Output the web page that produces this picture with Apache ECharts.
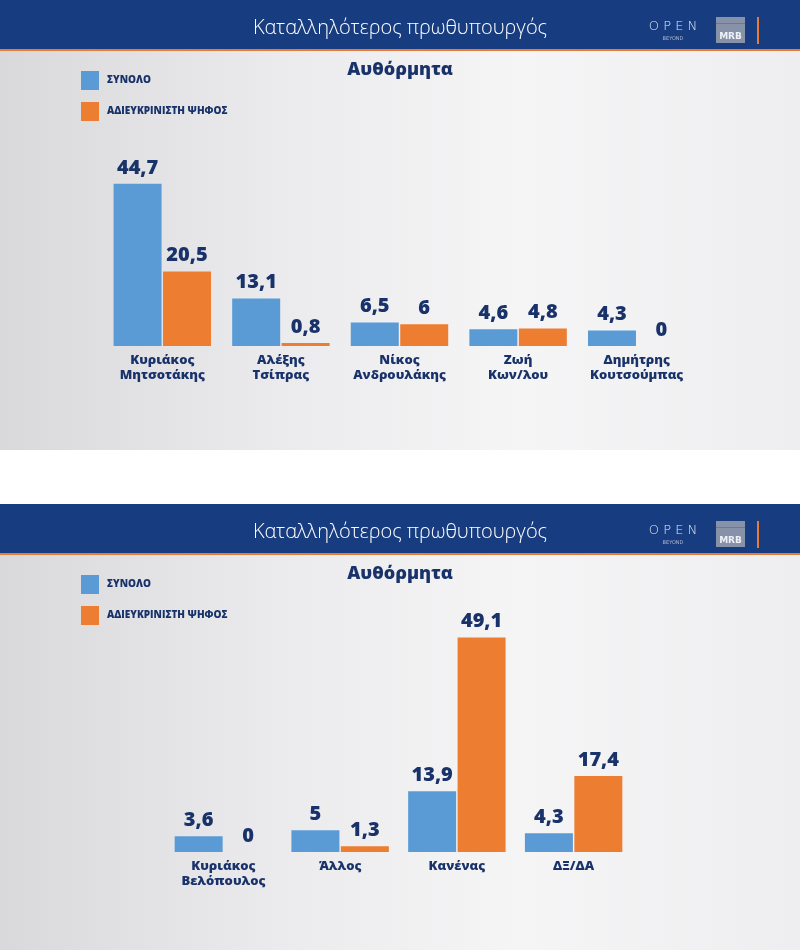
<!DOCTYPE html>
<html>
<head>
<meta charset="utf-8">
<script src="https://cdn.jsdelivr.net/npm/echarts@6/dist/echarts.min.js"></script>
<style>
html,body{margin:0;padding:0;background:#fff;}
#c{width:800px;height:950px;}
</style>
</head>
<body>
<div id="c"></div>
<script>
const headerTitle = 'Καταλληλότερος πρωθυπουργός';
const subTitle = 'Αυθόρμητα';
const seriesNames = ['ΣΥΝΟΛΟ', 'ΑΔΙΕΥΚΡΙΝΙΣΤΗ ΨΗΦΟΣ'];

const categories1 = ['Κυριάκος\nΜητσοτάκης', 'Αλέξης\nΤσίπρας', 'Νίκος\nΑνδρουλάκης', 'Ζωή\nΚων/λου', 'Δημήτρης\nΚουτσούμπας'];
const total1 = [44.7, 13.1, 6.5, 4.6, 4.3];
const undecided1 = [20.5, 0.8, 6, 4.8, 0];

const categories2 = ['Κυριάκος\nΒελόπουλος', 'Άλλος', 'Κανένας', 'ΔΞ/ΔΑ'];
const total2 = [3.6, 5, 13.9, 4.3];
const undecided2 = [0, 1.3, 49.1, 17.4];

const BLUE = '#5b9bd5', ORANGE = '#ed7d31', NAVY = '#19336a', HEADER = '#173d80', LINE = '#e87b3b';
const FONT = '"Open Sans", "Noto Sans", sans-serif';

const chart = echarts.init(document.getElementById('c'), null, {renderer: 'canvas'});

function bg(y, h) {
  return {
    type: 'rect', shape: {x: 0, y: y, width: 800, height: h}, z: -10, silent: true,
    style: {fill: {type: 'linear', x: 0, y: 0, x2: 1, y2: 0,
      colorStops: [{offset: 0, color: '#d9d9dc'}, {offset: 0.35, color: '#ebebed'}, {offset: 0.65, color: '#f5f5f6'}, {offset: 1, color: '#eeeef0'}]}}
  };
}
function header(y) {
  return [
    {type: 'rect', shape: {x: 0, y: y, width: 800, height: 49}, style: {fill: HEADER}, z: -5, silent: true},
    {type: 'rect', shape: {x: 0, y: y + 49, width: 800, height: 2}, style: {fill: LINE}, z: -5, silent: true},
    {type: 'text', x: 673, y: y + 27, z: 5, style: {text: 'O P E N', fill: '#dde4ef', font: '300 13px "DejaVu Sans", sans-serif', textAlign: 'center', textVerticalAlign: 'middle'}},
    {type: 'text', x: 673, y: y + 39, z: 5, style: {text: 'BEYOND', fill: '#aab6cc', font: '5px "DejaVu Sans", sans-serif', textAlign: 'center', textVerticalAlign: 'middle'}},
    {type: 'rect', shape: {x: 716, y: y + 17, width: 29, height: 26}, style: {fill: '#8791a7'}, z: 5},
    {type: 'rect', shape: {x: 716, y: y + 23, width: 29, height: 1}, style: {fill: '#6f7990'}, z: 6},
    {type: 'text', x: 730.5, y: y + 37, z: 7, style: {text: 'MRB', fill: '#eef1f6', font: 'bold 9px "DejaVu Sans", sans-serif', textAlign: 'center', textVerticalAlign: 'middle'}},
    {type: 'rect', shape: {x: 757, y: y + 17, width: 2, height: 27}, style: {fill: LINE}, z: 5}
  ];
}

const labelFmt = p => String(p.value).replace('.', ',');
function barSeries(name, data, color, idx) {
  return {
    name: name, type: 'bar', data: data, xAxisIndex: idx, yAxisIndex: idx,
    barWidth: 48, barGap: '3%',
    itemStyle: {color: color},
    label: {show: true, position: 'top', distance: 6, formatter: labelFmt,
      color: NAVY, fontFamily: FONT, fontWeight: 800, fontSize: 20},
    emphasis: {disabled: true}
  };
}
function xAxis(cats, idx) {
  return {type: 'category', data: cats, gridIndex: idx,
    axisLine: {show: false}, axisTick: {show: false}, splitLine: {show: false},
    axisLabel: {color: NAVY, fontFamily: FONT, fontWeight: 800, fontSize: 13, lineHeight: 15, margin: 7, interval: 0}};
}
function yAxis(max, idx) {
  return {type: 'value', gridIndex: idx, min: 0, max: max, show: false, splitLine: {show: false}};
}
function legend(top) {
  return {orient: 'vertical', left: 81, top: top, padding: 0, itemWidth: 18, itemHeight: 19, itemGap: 12,
    icon: 'rect', selectedMode: false, data: seriesNames,
    textStyle: {color: NAVY, fontFamily: FONT, fontWeight: 800, fontSize: 10, padding: [0, 0, 0, 3]}};
}

chart.setOption({
  animation: false,
  backgroundColor: '#ffffff',
  title: [
    {text: headerTitle, left: 'center', top: 18, padding: 0, textStyle: {color: '#ffffff', fontFamily: FONT, fontWeight: 300, fontSize: 20}},
    {text: subTitle, left: 'center', top: 61, padding: 0, textStyle: {color: NAVY, fontFamily: FONT, fontWeight: 800, fontSize: 18}},
    {text: headerTitle, left: 'center', top: 522, padding: 0, textStyle: {color: '#ffffff', fontFamily: FONT, fontWeight: 300, fontSize: 20}},
    {text: subTitle, left: 'center', top: 565, padding: 0, textStyle: {color: NAVY, fontFamily: FONT, fontWeight: 800, fontSize: 18}}
  ],
  legend: [legend(71), legend(575)],
  graphic: [bg(51, 399), bg(555, 395)].concat(header(0), header(504)),
  grid: [
    {left: 103, width: 593, top: 92, height: 254},
    {left: 165, width: 467, top: 590, height: 262}
  ],
  xAxis: [xAxis(categories1, 0), xAxis(categories2, 1)],
  yAxis: [yAxis(70, 0), yAxis(60, 1)],
  series: [
    barSeries(seriesNames[0], total1, BLUE, 0),
    barSeries(seriesNames[1], undecided1, ORANGE, 0),
    barSeries(seriesNames[0], total2, BLUE, 1),
    barSeries(seriesNames[1], undecided2, ORANGE, 1)
  ]
});
</script>
</body>
</html>
